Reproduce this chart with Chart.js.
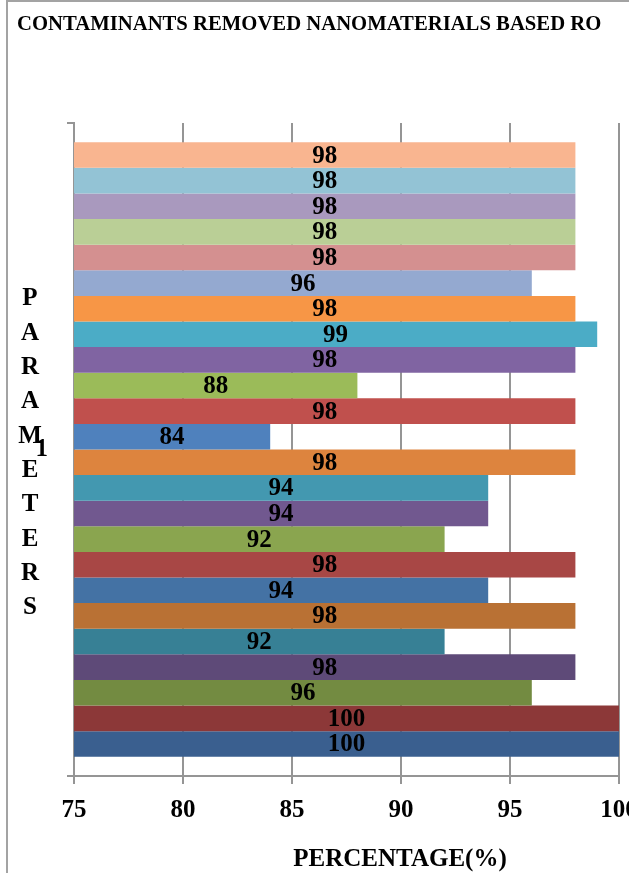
<!DOCTYPE html>
<html>
<head>
<meta charset="utf-8">
<title>Contaminants removed nanomaterials based RO</title>
<script src="https://cdn.jsdelivr.net/npm/chart.js@4.4.1/dist/chart.umd.min.js"></script>
<style>
  html, body { margin: 0; padding: 0; background: #fff; overflow: hidden; }
  #wrap { position: relative; width: 700px; height: 873px; }
</style>
</head>
<body>
<div id="wrap"><canvas id="chart"></canvas></div>
<script>
const FONT = '"Liberation Serif", "Times New Roman", serif';
const GRID = '#959595';

// one category, 24 series - listed from the top bar down to the bottom bar
const categories = ['1'];
const seriesNames = [
  'Series 24', 'Series 23', 'Series 22', 'Series 21', 'Series 20', 'Series 19',
  'Series 18', 'Series 17', 'Series 16', 'Series 15', 'Series 14', 'Series 13',
  'Series 12', 'Series 11', 'Series 10', 'Series 9', 'Series 8', 'Series 7',
  'Series 6', 'Series 5', 'Series 4', 'Series 3', 'Series 2', 'Series 1'
];
const values = [98, 98, 98, 98, 98, 96, 98, 99, 98, 88, 98, 84, 98, 94, 94, 92, 98, 94, 98, 92, 98, 96, 100, 100];
const barColors = [
  '#F9B590', '#93C3D5', '#A999BE', '#BACF96', '#D49090', '#94A9D0',
  '#F79646', '#4BACC6', '#8064A2', '#9BBB59', '#C0504D', '#4F81BD',
  '#DD843E', '#4398B0', '#71588F', '#8AA54F', '#A84745', '#4472A4',
  '#B97134', '#378095', '#5E4A78', '#738B41', '#8C3838', '#3A5F8F'
];
const xTicks = [75, 80, 85, 90, 95, 100];

const chartTitle = 'CONTAMINANTS REMOVED NANOMATERIALS BASED RO';
const xTitle = 'PERCENTAGE(%)';
const yTitle = 'PARAMETERS';

// frame, titles and the value labels on the bars
const decorations = {
  id: 'decorations',
  afterDraw(chart) {
    const ctx = chart.ctx;
    ctx.save();
    // outer frame
    ctx.strokeStyle = '#a3a3a3';
    ctx.lineWidth = 2;
    ctx.strokeRect(7, 1, chart.width + 20, chart.height + 20);

    ctx.fillStyle = '#000';
    ctx.textBaseline = 'alphabetic';
    ctx.font = 'bold 20.7px ' + FONT;
    ctx.textAlign = 'left';
    ctx.fillText(chartTitle, 17, 30);

    ctx.font = 'bold 25px ' + FONT;
    ctx.textAlign = 'center';
    ctx.fillText(xTitle, 400, 866);

    // stacked letters of the y title
    ctx.textBaseline = 'middle';
    yTitle.split('').forEach((ch, i) => {
      ctx.fillText(ch, 30, 299 + i * 34.3);
    });

    // value labels, centred between the axis minimum and the bar end
    const xs = chart.scales.x;
    const start = xs.getPixelForValue(xs.min);
    chart.data.datasets.forEach((ds, i) => {
      chart.getDatasetMeta(i).data.forEach((bar, j) => {
        const v = ds.data[j];
        ctx.fillText(String(v), (xs.getPixelForValue(v) + start) / 2, bar.y + 1);
      });
    });
    ctx.restore();
  }
};

new Chart(document.getElementById('chart').getContext('2d'), {
  type: 'bar',
  data: {
    labels: categories,
    datasets: values.map((v, i) => ({
      label: seriesNames[i],
      data: [v],
      backgroundColor: barColors[i],
      borderWidth: 0
    }))
  },
  options: {
    indexAxis: 'y',
    responsive: true,
    maintainAspectRatio: false,
    animation: false,
    categoryPercentage: 0.941,
    barPercentage: 1,
    layout: {
      padding: { top: 123, right: 81, bottom: 0, left: 0 }
    },
    scales: {
      x: {
        type: 'linear',
        min: 75,
        max: 100,
        afterFit: scale => { scale.height = 97; },
        afterBuildTicks: scale => { scale.ticks = xTicks.map(v => ({ value: v })); },
        ticks: {
          color: '#000',
          padding: 12,
          font: { family: FONT, size: 25, weight: 'bold' }
        },
        grid: {
          color: GRID,
          lineWidth: 2,
          tickLength: 8
        },
        border: { color: GRID, width: 2 }
      },
      y: {
        type: 'category',
        afterFit: scale => { scale.width = 74; },
        ticks: {
          color: '#000',
          padding: 19,
          font: { family: FONT, size: 25, weight: 'bold' }
        },
        grid: {
          offset: true,
          drawOnChartArea: false,
          color: GRID,
          lineWidth: 2,
          tickLength: 7
        },
        border: { color: GRID, width: 2 }
      }
    },
    plugins: {
      legend: { display: false },
      title: { display: false },
      tooltip: { enabled: true }
    }
  },
  plugins: [decorations]
});
</script>
</body>
</html>
